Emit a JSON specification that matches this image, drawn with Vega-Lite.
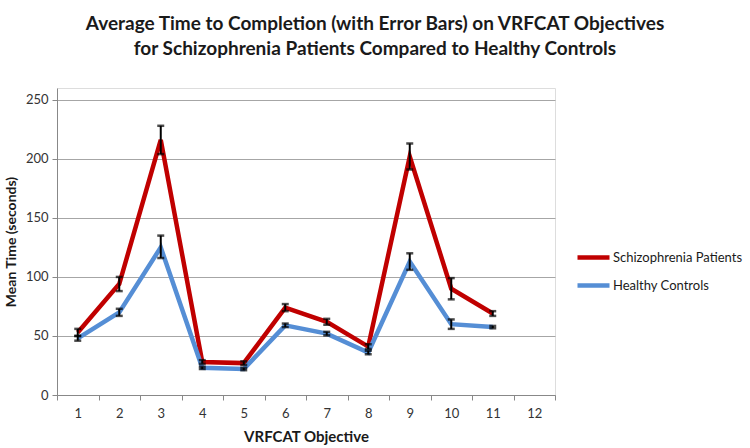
{
  "$schema": "https://vega.github.io/schema/vega-lite/v6.json",
  "autosize": {"type": "none"},
  "width": 498,
  "height": 307,
  "padding": {"left": 57, "top": 88, "right": 195, "bottom": 53},
  "background": "white",
  "title": {
    "text": ["Average Time to Completion (with Error Bars) on VRFCAT Objectives", "for Schizophrenia Patients Compared to Healthy Controls"],
    "font": "Lato",
    "fontSize": 19,
    "fontWeight": "bold",
    "color": "#1a1a1a",
    "lineHeight": 25,
    "anchor": "middle",
    "dx": 69,
    "offset": 29
  },
  "data": {
    "values": [
      {"obj": 1, "group": "Schizophrenia Patients", "mean": 53, "lo": 50, "hi": 56},
      {"obj": 2, "group": "Schizophrenia Patients", "mean": 94, "lo": 88, "hi": 100},
      {"obj": 3, "group": "Schizophrenia Patients", "mean": 216, "lo": 204, "hi": 228},
      {"obj": 4, "group": "Schizophrenia Patients", "mean": 28, "lo": 26.5, "hi": 29.5},
      {"obj": 5, "group": "Schizophrenia Patients", "mean": 27, "lo": 25.5, "hi": 28.5},
      {"obj": 6, "group": "Schizophrenia Patients", "mean": 74, "lo": 71, "hi": 77},
      {"obj": 7, "group": "Schizophrenia Patients", "mean": 62, "lo": 59.5, "hi": 64.5},
      {"obj": 8, "group": "Schizophrenia Patients", "mean": 41, "lo": 39, "hi": 43},
      {"obj": 9, "group": "Schizophrenia Patients", "mean": 202, "lo": 191, "hi": 213},
      {"obj": 10, "group": "Schizophrenia Patients", "mean": 90, "lo": 81, "hi": 99},
      {"obj": 11, "group": "Schizophrenia Patients", "mean": 69, "lo": 67, "hi": 71},
      {"obj": 1, "group": "Healthy Controls", "mean": 48, "lo": 46, "hi": 50},
      {"obj": 2, "group": "Healthy Controls", "mean": 70, "lo": 67, "hi": 73},
      {"obj": 3, "group": "Healthy Controls", "mean": 125, "lo": 116, "hi": 135},
      {"obj": 4, "group": "Healthy Controls", "mean": 23, "lo": 22, "hi": 24},
      {"obj": 5, "group": "Healthy Controls", "mean": 22, "lo": 21, "hi": 23},
      {"obj": 6, "group": "Healthy Controls", "mean": 59, "lo": 57.5, "hi": 60.5},
      {"obj": 7, "group": "Healthy Controls", "mean": 52, "lo": 50.5, "hi": 53.5},
      {"obj": 8, "group": "Healthy Controls", "mean": 36, "lo": 34.5, "hi": 37.5},
      {"obj": 9, "group": "Healthy Controls", "mean": 113, "lo": 106, "hi": 120},
      {"obj": 10, "group": "Healthy Controls", "mean": 60, "lo": 56, "hi": 64},
      {"obj": 11, "group": "Healthy Controls", "mean": 57.5, "lo": 56.5, "hi": 58.5}
    ]
  },
  "encoding": {
    "x": {
      "field": "obj",
      "type": "ordinal",
      "scale": {"domain": [1, 2, 3, 4, 5, 6, 7, 8, 9, 10, 11, 12], "paddingInner": 0, "paddingOuter": 0},
      "axis": {
        "title": "VRFCAT Objective",
        "titleFont": "Lato",
        "titleFontSize": 15,
        "titleFontWeight": "bold",
        "titleColor": "#1a1a1a",
        "titlePadding": 9,
        "labelFont": "Lato",
        "labelFontSize": 13,
        "labelColor": "#333333",
        "labelAngle": 0,
        "labelPadding": 7,
        "tickBand": "extent",
        "tickSize": 5,
        "tickColor": "#888888",
        "domainColor": "#888888",
        "grid": false
      }
    }
  },
  "layer": [
    {
      "mark": {"type": "line", "strokeWidth": 4.5},
      "encoding": {
        "y": {
          "field": "mean",
          "type": "quantitative",
          "scale": {"domain": [0, 250]},
          "axis": {
            "title": "Mean Time (seconds)",
            "titleFont": "Lato",
            "titleFontSize": 14,
            "titleFontWeight": "bold",
            "titleColor": "#1a1a1a",
            "titlePadding": 7,
            "labelFont": "Lato",
            "labelFontSize": 13,
            "labelColor": "#333333",
            "labelPadding": 4,
            "values": [0, 50, 100, 150, 200, 250],
            "tickSize": 5,
            "tickColor": "#888888",
            "domainColor": "#888888",
            "gridColor": "#a6a6a6",
            "gridWidth": 1.2
          }
        },
        "color": {
          "field": "group",
          "type": "nominal",
          "scale": {"domain": ["Schizophrenia Patients", "Healthy Controls"], "range": ["#c00000", "#558ed5"]},
          "legend": {
            "title": null,
            "orient": "none",
            "legendX": 518,
            "legendY": 151,
            "symbolType": "stroke",
            "symbolSize": 1024,
            "symbolStrokeWidth": 4.5,
            "labelFont": "Lato",
            "labelFontSize": 13,
            "labelColor": "#1a1a1a",
            "rowPadding": -5,
            "labelOffset": 1
          }
        }
      }
    },
    {
      "mark": {"type": "rule", "color": "black", "strokeWidth": 2},
      "encoding": {
        "y": {"field": "lo", "type": "quantitative"},
        "y2": {"field": "hi"}
      }
    },
    {
      "mark": {"type": "tick", "color": "black", "size": 7, "thickness": 2.5},
      "encoding": {"y": {"field": "lo", "type": "quantitative"}}
    },
    {
      "mark": {"type": "tick", "color": "black", "size": 7, "thickness": 2.5},
      "encoding": {"y": {"field": "hi", "type": "quantitative"}}
    }
  ]
}
